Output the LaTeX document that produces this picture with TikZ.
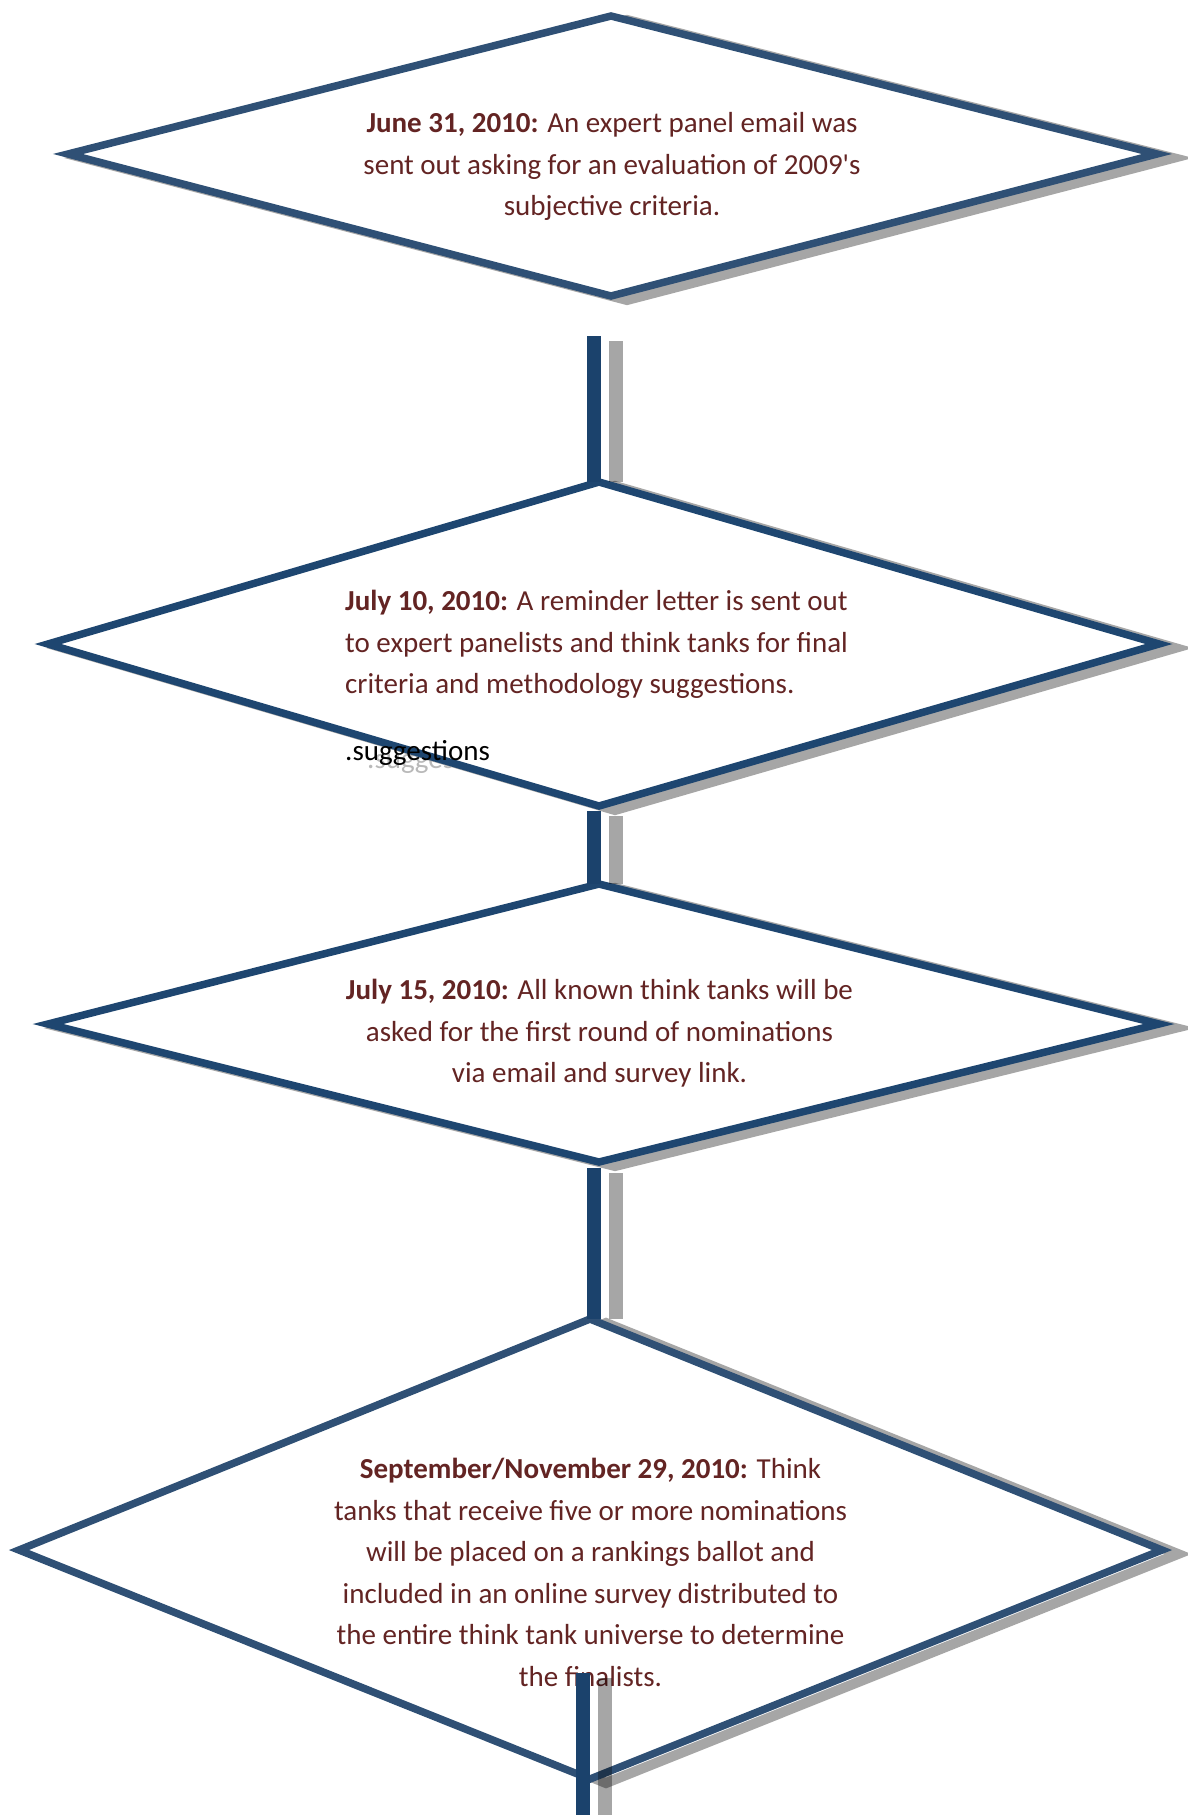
\documentclass[tikz,border=0pt]{standalone}
\usepackage{fontspec}
\setmainfont{Carlito}
\definecolor{txtc}{RGB}{99,36,35}
\definecolor{edgeA}{RGB}{47,80,117}
\definecolor{edgeB}{RGB}{30,70,112}
\definecolor{barc}{RGB}{27,66,108}
\definecolor{shadec}{RGB}{166,166,166}
\definecolor{ghostc}{RGB}{185,185,185}
\newcommand\straightquote{{\XeTeXglyph\XeTeXcharglyph"0027\relax}}
\tikzset{
  dshadow/.style={draw=shadec, line width=10pt, line join=miter},
  dbox/.style={draw=#1, fill=white, line width=7.5pt, line join=miter},
  connbar/.style={draw=barc, line width=14pt},
  connshadow/.style={draw=black, opacity=0.35, line width=14pt},
  steptext/.style={text=txtc, inner sep=0pt, font=\fontsize{29}{41.6}\selectfont},
}
\begin{document}
\begin{tikzpicture}[x=1pt,y=1pt]
\useasboundingbox[fill=white] (0,0) rectangle (1188,-1815);
% diamond vertices
\coordinate (d1t) at (611,-16);   \coordinate (d1l) at (68,-154);
\coordinate (d1r) at (1157,-154); \coordinate (d1b) at (611,-296);
\coordinate (d2t) at (599,-482);  \coordinate (d2l) at (48,-644);
\coordinate (d2r) at (1159,-644); \coordinate (d2b) at (599,-806);
\coordinate (d3t) at (599,-884);  \coordinate (d3l) at (48,-1024);
\coordinate (d3r) at (1159,-1024);\coordinate (d3b) at (599,-1162);
\coordinate (d4t) at (590,-1319); \coordinate (d4l) at (19,-1550);
\coordinate (d4r) at (1162,-1550);\coordinate (d4b) at (590,-1779);
% connector free ends
\coordinate (c1s) at (594,-336);
\coordinate (c2s) at (594,-811);
\coordinate (c3s) at (594,-1168);
\coordinate (c4s) at (583,-1673);
\coordinate (c4e) at (583,-1815);

% ghost text behind diamond 2
\node[anchor=base west, inner sep=0pt, text=ghostc, font=\fontsize{29}{41.6}\selectfont] (ghost) at (367,-768) {.suggestions};

% diamonds with shadows
\foreach \d/\c in {d1/edgeA, d2/edgeB, d3/edgeB, d4/edgeA}{
  \draw[dshadow] ([shift={(16,-4)}]\d t) -- ([shift={(16,-4)}]\d r)
     -- ([shift={(16,-4)}]\d b) -- ([shift={(16,-4)}]\d l) -- cycle;
  \draw[dbox=\c] (\d t) -- (\d r) -- (\d b) -- (\d l) -- cycle;
}

% texts
\node[steptext, align=center] (t1) at (612,-166.5)
  {\textbf{June 31, 2010:} An expert panel email was\\
   sent out asking for an evaluation of 2009\straightquote s\\
   subjective criteria.};
\node[steptext, align=left, anchor=west] (t2) at (345,-644.5)
  {\textbf{July 10, 2010:} A reminder letter is sent out\\
   to expert panelists and think tanks for final\\
   criteria and methodology suggestions.};
\node[anchor=base west, inner sep=0pt, text=black, font=\fontsize{29}{41.6}\selectfont] (t2b) at (345,-760) {.suggestions};
\node[steptext, align=center] (t3) at (599.5,-1033.5)
  {\textbf{July 15, 2010:} All known think tanks will be\\
   asked for the first round of nominations\\
   via email and survey link.};
\node[steptext, align=center] (t4) at (590.5,-1572.5)
  {\textbf{September/November 29, 2010:} Think\\
   tanks that receive five or more nominations\\
   will be placed on a rankings ballot and\\
   included in an online survey distributed to\\
   the entire think tank universe to determine\\
   the finalists.};

% connectors: shadows then bars
\draw[connshadow] ([shift={(22,-5)}]c1s) -- ([xshift=22]c1s |- d2t);
\draw[connshadow] ([shift={(22,-5)}]c2s) -- ([xshift=22]c2s |- d3t);
\draw[connshadow] ([shift={(22,-5)}]c3s) -- ([xshift=22]c3s |- d4t);
\draw[connshadow] ([shift={(22,-5)}]c4s) -- ([xshift=22]c4e);
\draw[connbar] (c1s) -- (c1s |- d2t);
\draw[connbar] (c2s) -- (c2s |- d3t);
\draw[connbar] (c3s) -- (c3s |- d4t);
\draw[connbar] (c4s) -- (c4e);
\end{tikzpicture}
\end{document}
